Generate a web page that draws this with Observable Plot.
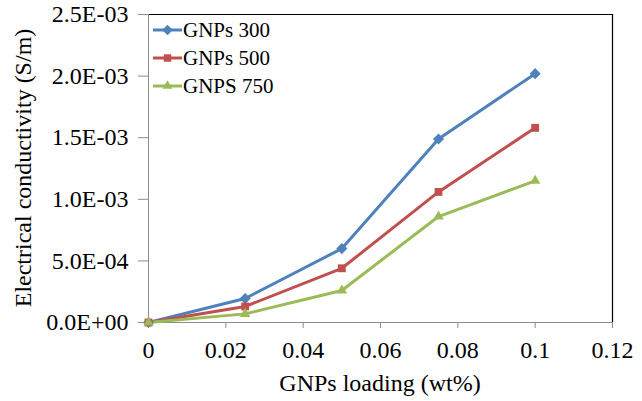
<!DOCTYPE html>
<html>
<head>
<meta charset="utf-8">
<script src="https://cdn.jsdelivr.net/npm/d3@7"></script>
<script src="https://cdn.jsdelivr.net/npm/@observablehq/plot@0.6"></script>
<style>
  html, body { margin: 0; padding: 0; background: #fff; }
  #wrap { position: relative; width: 642px; height: 401px; font-family: "Times New Roman", "Liberation Serif", "DejaVu Serif", serif; }
  #legend { position: absolute; left: 153px; top: 16px; font-size: 21px; color: #000; }
  #legend .row { display: flex; align-items: center; height: 28px; }
  #legend svg { display: block; margin-right: 1px; }
  #wrap svg text { font-family: "Times New Roman", "Liberation Serif", "DejaVu Serif", serif; }
</style>
</head>
<body>
<div id="wrap"><div id="legend"></div></div>
<script>
const loading = [0, 0.025, 0.05, 0.075, 0.1];
const seriesNames = ["GNPs 300", "GNPs 500", "GNPS 750"];
const gnps300 = [0, 0.000195, 0.0006, 0.00149, 0.00202];
const gnps500 = [0, 0.00013, 0.00044, 0.00106, 0.00158];
const gnps750 = [0, 0.00007, 0.00026, 0.00086, 0.00115];
const xTicks = [0, 0.02, 0.04, 0.06, 0.08, 0.1, 0.12];
const yTicks = [0, 0.0005, 0.001, 0.0015, 0.002, 0.0025];
const colors = ["#4F81BD", "#C0504D", "#9BBB59"];
const symbols = ["diamond2", "square2", "triangle2"];
const legendSymbols = [d3.symbolDiamond2, d3.symbolSquare2, d3.symbolTriangle2];

const allValues = [gnps300, gnps500, gnps750];
const data = [];
seriesNames.forEach((s, i) => loading.forEach((x, j) => data.push({series: s, x, y: allValues[i][j]})));

function fmtE(d) {
  if (d === 0) return "0.0E+00";
  const e = Math.floor(Math.log10(Math.abs(d)) + 1e-9);
  const m = d / Math.pow(10, e);
  const sign = e < 0 ? "-" : "+";
  return m.toFixed(1) + "E" + sign + String(Math.abs(e)).padStart(2, "0");
}

const serif = "'Times New Roman', 'Liberation Serif', 'DejaVu Serif', serif";
const chart = Plot.plot({
  width: 642,
  height: 401,
  marginLeft: 148,
  marginRight: 30,
  marginTop: 14,
  marginBottom: 79,
  style: { fontFamily: serif, fontSize: "24px", background: "white", overflow: "visible" },
  x: { domain: [0, 0.12], ticks: xTicks, tickFormat: d => String(+d.toFixed(2)) },
  y: { domain: [0, 0.0025], ticks: yTicks, tickFormat: fmtE },
  color: { domain: seriesNames, range: colors },
  symbol: { domain: seriesNames, range: symbols },
  marks: [
    Plot.frame({ anchor: "top", stroke: "#000", strokeWidth: 1.2 }),
    Plot.frame({ anchor: "right", stroke: "#000", strokeWidth: 1.2 }),
    Plot.ruleX([0], { stroke: "#8c8c8c", strokeWidth: 1 }),
    Plot.ruleY([0], { stroke: "#8c8c8c", strokeWidth: 1 }),
    Plot.axisX({ ticks: xTicks, tickFormat: d => String(+d.toFixed(2)), tickSize: 6, tickPadding: 12, stroke: "#8c8c8c", color: "#000", label: null, fontSize: 24 }),
    Plot.axisY({ ticks: yTicks, tickFormat: fmtE, tickSize: 10, tickPadding: 10, stroke: "#8c8c8c", color: "#000", label: null, fontSize: 24 }),
    Plot.line(data, { x: "x", y: "y", z: "series", stroke: "series", strokeWidth: 3 }),
    Plot.dot(data, { x: "x", y: "y", fill: "series", symbol: "series", r: 5, stroke: null })
  ]
});
const wrap = document.getElementById("wrap");
wrap.insertBefore(chart, wrap.firstChild);

const svg = d3.select(chart);
svg.append("text").attr("x", 380).attr("y", 391).attr("text-anchor", "middle")
  .attr("font-size", 24).attr("fill", "#000").text("GNPs loading (wt%)");
svg.append("text").attr("transform", "translate(31,168) rotate(-90)").attr("text-anchor", "middle")
  .attr("font-size", 24).attr("fill", "#000").text("Electrical conductivity (S/m)");

const legend = d3.select("#legend");
seriesNames.forEach((name, i) => {
  const row = legend.append("div").attr("class", "row");
  const s = row.append("svg").attr("width", 29).attr("height", 14);
  s.append("line").attr("x1", 0).attr("x2", 29).attr("y1", 7).attr("y2", 7).attr("stroke", colors[i]).attr("stroke-width", 3);
  s.append("path").attr("transform", "translate(14.5,7)")
    .attr("d", d3.symbol(legendSymbols[i] || d3.symbolSquare, 70)())
    .attr("fill", colors[i]);
  row.append("span").text(name);
});
</script>
</body>
</html>
